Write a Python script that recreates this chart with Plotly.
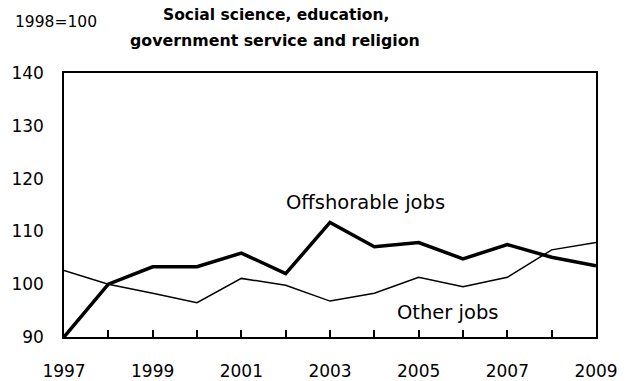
import plotly.graph_objects as go

years = list(range(1997, 2010))
offshorable = [90, 100, 103.3, 103.3, 105.9, 102, 111.7, 107.1, 107.9, 104.8, 107.5, 105.1, 103.5]
other = [102.6, 100, 98.3, 96.5, 101.1, 99.8, 96.8, 98.3, 101.3, 99.5, 101.3, 106.5, 107.9]
tick_labels = [str(y) if (y - 1997) % 2 == 0 else "" for y in years]
y_ticks = [90, 100, 110, 120, 130, 140]

FONT = "DejaVu Sans"
L, R, T, B = 64, 35, 73, 44
PW = 631 - L - R

fig = go.Figure()
fig.add_trace(go.Scatter(x=years, y=other, mode="lines",
                         line=dict(color="black", width=1.5), showlegend=False))
fig.add_trace(go.Scatter(x=years, y=offshorable, mode="lines",
                         line=dict(color="black", width=3.5), showlegend=False))

fig.update_layout(
    width=631, height=381,
    margin=dict(l=L, r=R, t=T, b=B, autoexpand=False),
    paper_bgcolor="white", plot_bgcolor="white",
    font=dict(family=FONT, size=17, color="black"),
    showlegend=False,
)
fig.update_xaxes(range=[1997, 2009], tickvals=years, ticktext=tick_labels,
                 ticks="inside", ticklen=7, tickwidth=1.5, tickcolor="black",
                 showline=True, linecolor="black", linewidth=1.5, mirror=True,
                 showgrid=False, zeroline=False, tickfont=dict(size=17),
                 ticklabelstandoff=18, automargin=False)
fig.update_yaxes(range=[90, 140], tickvals=y_ticks,
                 ticks="", showline=True, linecolor="black", linewidth=1.5, mirror=True,
                 showgrid=False, zeroline=False, tickfont=dict(size=17),
                 ticklabelstandoff=15, automargin=False)

def px_x(page_x):
    return (page_x - L) / PW

fig.add_annotation(text="<b>Social science, education,</b>",
                   xref="paper", yref="paper", x=px_x(276), y=1,
                   yshift=58, yanchor="middle", xanchor="center", showarrow=False,
                   font=dict(size=15.5))
fig.add_annotation(text="<b>government service and religion</b>",
                   xref="paper", yref="paper", x=px_x(275), y=1,
                   yshift=33, yanchor="middle", xanchor="center", showarrow=False,
                   font=dict(size=15.8))
fig.add_annotation(text="1998=100", xref="paper", yref="paper", x=px_x(13),
                   y=1, yshift=51, xanchor="left", yanchor="middle", showarrow=False,
                   font=dict(size=15.5))
fig.add_annotation(text="Offshorable jobs", x=2003.81, y=115.4, xref="x", yref="y",
                   showarrow=False, font=dict(size=19.5))
fig.add_annotation(text="Other jobs", x=2005.65, y=94.7, xref="x", yref="y",
                   showarrow=False, font=dict(size=19.5))

fig.write_html("out.html", config={"displayModeBar": False},
               post_script="document.body.style.margin='0';document.body.style.padding='0';")
